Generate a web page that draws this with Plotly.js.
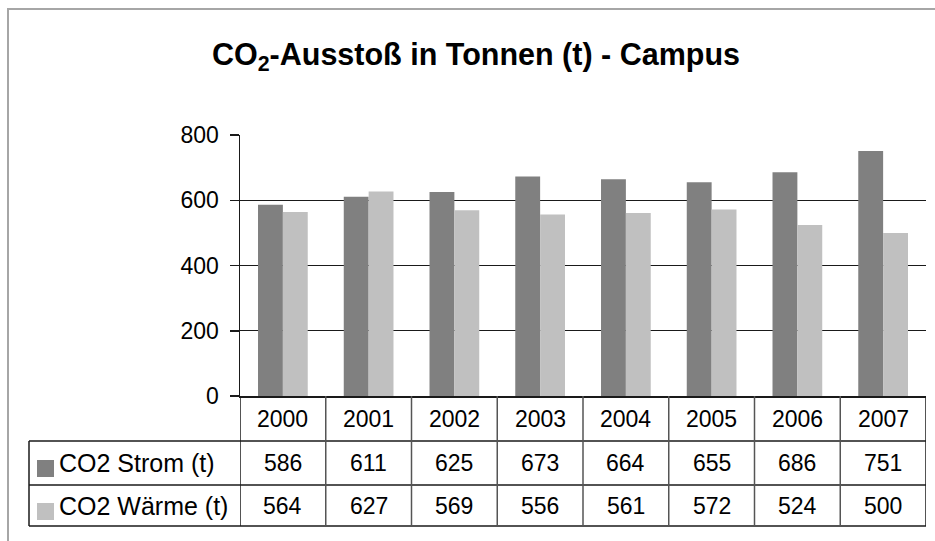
<!DOCTYPE html>
<html>
<head>
<meta charset="utf-8">
<script src="https://cdn.plot.ly/plotly-3.0.1.min.js"></script>
<style>html,body{margin:0;padding:0;background:#fff;}#chart{width:935px;height:541px;}</style>
</head>
<body>
<div id="chart"></div>
<script>
const years = ['2000','2001','2002','2003','2004','2005','2006','2007'];
const stromName = 'CO2 Strom (t)';
const waermeName = 'CO2 Wärme (t)';
const strom = [586, 611, 625, 673, 664, 655, 686, 751];
const waerme = [564, 627, 569, 556, 561, 572, 524, 500];
const yTicks = [0, 200, 400, 600, 800];

const W = 935, H = 541;
const M = {l: 240, r: 9, t: 135, b: 145};
const PW = W - M.l - M.r, PH = H - M.t - M.b;
const px = x => (x - M.l) / PW;
const py = y => (H - M.b - y) / PH;

const font = 'Liberation Sans, Arial, sans-serif';
const lineCol = '#1a1a1a';
const dark = '#808080', light = '#c0c0c0';

const traces = [
  {type: 'bar', name: stromName, x: years, y: strom, marker: {color: dark}, hoverinfo: 'skip'},
  {type: 'bar', name: waermeName, x: years, y: waerme, marker: {color: light}, hoverinfo: 'skip'}
];

const shapes = [];
const annotations = [];
// outer frame
shapes.push({type: 'rect', xref: 'paper', yref: 'paper', x0: px(8), x1: px(960), y0: py(9), y1: py(560),
  line: {color: '#a6a6a6', width: 2}, layer: 'below'});
// table horizontal lines
[441, 485, 526].forEach(y => shapes.push({type: 'line', xref: 'paper', yref: 'paper',
  x0: px(29), x1: 1, y0: py(y), y1: py(y), line: {color: lineCol, width: 1.5}}));
// table vertical lines at category boundaries
for (let k = 0; k <= years.length; k++) {
  shapes.push({type: 'line', xref: 'x', yref: 'paper', x0: k - 0.5, x1: k - 0.5,
    y0: 0, y1: py(526), line: {color: k === 0 || k === years.length ? lineCol : '#555', width: 1.5}});
}
shapes.push({type: 'line', xref: 'paper', yref: 'paper', x0: px(29), x1: px(29),
  y0: py(441), y1: py(526), line: {color: lineCol, width: 1.5}});
// legend keys
shapes.push({type: 'rect', xref: 'paper', yref: 'paper', x0: px(37), x1: px(54), y0: py(477), y1: py(460),
  fillcolor: dark, line: {width: 0}});
shapes.push({type: 'rect', xref: 'paper', yref: 'paper', x0: px(37), x1: px(54), y0: py(520), y1: py(503),
  fillcolor: light, line: {width: 0}});

const fs = 23;
const fsLeg = 25;
annotations.push({xref: 'paper', yref: 'paper', x: px(57), y: py(463), text: stromName, showarrow: false,
  xanchor: 'left', yanchor: 'middle', font: {family: font, size: fsLeg, color: '#000'}});
annotations.push({xref: 'paper', yref: 'paper', x: px(57), y: py(505.5), text: waermeName, showarrow: false,
  xanchor: 'left', yanchor: 'middle', font: {family: font, size: fsLeg, color: '#000'}});
years.forEach((yr, i) => {
  annotations.push({xref: 'x', yref: 'paper', x: i, y: py(418.5), text: yr, showarrow: false,
    xanchor: 'center', yanchor: 'middle', font: {family: font, size: fs, color: '#000'}});
  annotations.push({xref: 'x', yref: 'paper', x: i, y: py(463), text: String(strom[i]), showarrow: false,
    xanchor: 'center', yanchor: 'middle', font: {family: font, size: fs, color: '#000'}});
  annotations.push({xref: 'x', yref: 'paper', x: i, y: py(505.5), text: String(waerme[i]), showarrow: false,
    xanchor: 'center', yanchor: 'middle', font: {family: font, size: fs, color: '#000'}});
});

const layout = {
  width: W, height: H,
  margin: M,
  paper_bgcolor: '#fff', plot_bgcolor: '#fff',
  showlegend: false,
  barmode: 'group', bargap: 0.42, bargroupgap: 0,
  title: {text: '<b>CO<sub>2</sub>-Ausstoß in Tonnen (t) - Campus</b>', x: 476 / W, xanchor: 'center',
    xref: 'container', yref: 'container', y: 1 - 54 / H, yanchor: 'middle',
    font: {family: font, size: 30.5, color: '#000'}},
  xaxis: {type: 'category', range: [-0.5, years.length - 0.5], showticklabels: false, ticks: '',
    showgrid: false, showline: true, linecolor: lineCol, linewidth: 1.5, zeroline: false, fixedrange: true},
  yaxis: {range: [0, 800], tickvals: yTicks, ticktext: yTicks.map(String), ticks: 'outside', ticklen: 9,
    tickcolor: lineCol, tickwidth: 1.5, ticklabelstandoff: 6,
    showgrid: true, gridcolor: lineCol, gridwidth: 1.2, showline: true, linecolor: lineCol, linewidth: 1.5,
    zeroline: false, tickfont: {family: font, size: fs, color: '#000'}, fixedrange: true},
  shapes: shapes,
  annotations: annotations
};

Plotly.newPlot('chart', traces, layout, {displayModeBar: false, staticPlot: true});
</script>
</body>
</html>
